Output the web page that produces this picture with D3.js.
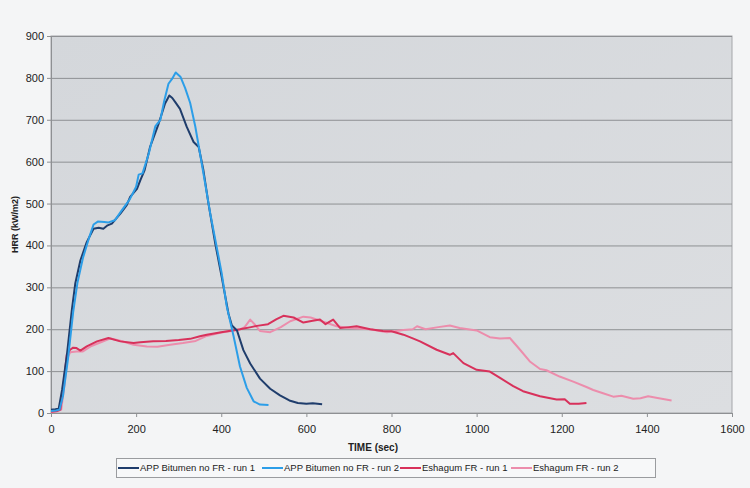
<!DOCTYPE html>
<html>
<head>
<meta charset="utf-8">
<script src="https://cdn.jsdelivr.net/npm/d3@7"></script>
<style>
  body { margin: 0; background: #f4f5f6; }
  svg { display: block; font-family: "Liberation Sans", Arial, sans-serif; }
</style>
</head>
<body>
<div id="chart"></div>
<script>
// [time (sec), HRR (kW/m2)]
var appRun1 = [
  [0,8],[10,9],[18,10],[26,55],[37,135],[49,246],[57,309],[69,364],[84,408],[100,440],
  [112,442],[123,440],[133,448],[143,452],[163,476],[178,496],[186,516],[202,535],[210,556],
  [220,580],[233,636],[253,691],[268,739],[278,758],[285,752],[292,742],[303,726],[319,683],
  [335,647],[347,635],[358,580],[370,500],[386,404],[401,325],[417,237],[425,209],[437,197],
  [452,150],[468,118],[491,82],[515,58],[538,42],[560,30],[580,24],[600,22],[615,23],[637,21]
];
var appRun2 = [
  [0,5],[12,6],[20,8],[28,40],[40,130],[52,240],[62,310],[75,370],[90,420],[100,450],
  [110,457],[125,456],[135,455],[150,460],[165,482],[185,510],[200,540],[206,569],[215,572],
  [230,620],[245,684],[257,700],[266,745],[276,786],[284,797],[293,813],[304,803],[315,776],
  [327,740],[339,684],[350,620],[362,549],[374,477],[386,414],[401,334],[413,254],[429,183],
  [444,111],[460,60],[476,28],[491,20],[511,19]
];
var eshagumRun1 = [
  [0,3],[15,5],[22,8],[30,72],[37,139],[45,151],[52,156],[60,155],[69,149],[84,159],
  [108,171],[135,179],[163,171],[194,167],[210,169],[240,171],[270,172],[300,174],[327,177],
  [350,183],[366,187],[400,193],[444,200],[470,205],[484,208],[510,212],[530,224],[546,232],
  [570,228],[593,216],[615,220],[632,223],[645,212],[663,223],[679,203],[700,205],[718,207],
  [750,200],[780,196],[800,195],[828,187],[850,178],[867,171],[906,151],[937,139],[945,143],
  [969,119],[992,107],[1000,103],[1031,99],[1055,84],[1086,64],[1109,52],[1149,40],[1188,32],
  [1207,33],[1219,22],[1240,22],[1258,24]
];
var eshagumRun2 = [
  [0,2],[15,4],[24,8],[32,70],[38,130],[45,145],[60,147],[75,147],[95,160],[120,170],
  [140,178],[165,172],[194,163],[225,159],[250,158],[280,163],[310,167],[340,172],[366,184],
  [400,192],[440,198],[455,205],[468,223],[480,210],[491,196],[515,193],[540,205],[562,219],
  [593,230],[610,228],[640,218],[671,207],[700,203],[750,200],[789,193],[828,198],[850,200],
  [860,207],[880,200],[910,205],[937,209],[960,203],[1000,197],[1031,181],[1055,178],
  [1078,179],[1102,151],[1125,123],[1149,105],[1164,102],[1195,87],[1227,75],[1258,62],
  [1274,55],[1297,47],[1321,39],[1340,41],[1368,34],[1385,35],[1403,40],[1425,36],[1458,30]
];

var seriesNames = ["APP Bitumen no FR - run 1", "APP Bitumen no FR - run 2",
                   "Eshagum FR - run 1", "Eshagum FR - run 2"];
var seriesColors = ["#1f3d6c", "#2c9ee8", "#d8315b", "#ec8dac"];
var xTicks = [0, 200, 400, 600, 800, 1000, 1200, 1400, 1600];
var yTicks = [0, 100, 200, 300, 400, 500, 600, 700, 800, 900];

var width = 750,
    height = 488,
    margin = { top: 36, right: 18, bottom: 75, left: 51 };
var plotW = width - margin.left - margin.right,
    plotH = height - margin.top - margin.bottom;

var svg = d3.select("#chart").append("svg")
  .attr("width", width)
  .attr("height", height);

var defs = svg.append("defs");
var grad = defs.append("linearGradient").attr("id", "plotbg")
  .attr("x1", "0").attr("y1", "0").attr("x2", "1").attr("y2", "1");
grad.append("stop").attr("offset", "0%").attr("stop-color", "#d4d7db");
grad.append("stop").attr("offset", "100%").attr("stop-color", "#dcdee1");

var x = d3.scaleLinear().domain([0, 1600]).range([0, plotW]);
var y = d3.scaleLinear().domain([0, 900]).range([plotH, 0]);

var g = svg.append("g").attr("transform", "translate(" + margin.left + "," + margin.top + ")");

g.append("rect")
  .attr("width", plotW)
  .attr("height", plotH)
  .attr("fill", "url(#plotbg)")
  .attr("stroke", "#a4a6a9");

// horizontal gridlines
g.append("g")
  .selectAll("line")
  .data(yTicks)
  .enter().append("line")
    .attr("x1", 0)
    .attr("x2", plotW)
    .attr("y1", function(d) { return y(d) + 0.5; })
    .attr("y2", function(d) { return y(d) + 0.5; })
    .attr("stroke", "#8e9093")
    .attr("stroke-width", 1);

var yAxis = d3.axisLeft(y).tickValues(yTicks).tickSize(4).tickPadding(3);
var xAxis = d3.axisBottom(x).tickValues(xTicks).tickFormat(d3.format("d"))
  .tickSize(4).tickPadding(8);

g.append("g").call(yAxis).call(styleAxis);
g.append("g").attr("transform", "translate(0," + plotH + ")").call(xAxis).call(styleAxis);

function styleAxis(sel) {
  sel.select(".domain").attr("stroke", "#8e9093");
  sel.selectAll(".tick line").attr("stroke", "#8e9093");
  sel.selectAll(".tick text")
    .attr("fill", "#222")
    .attr("font-size", "11px")
    .attr("font-family", "\"Liberation Sans\", Arial, sans-serif");
}

var line = d3.line()
  .x(function(d) { return x(d[0]); })
  .y(function(d) { return y(d[1]); });

var allSeries = [appRun1, appRun2, eshagumRun1, eshagumRun2];
// draw the Eshagum runs first so the bitumen curves sit on top
[3, 2, 0, 1].forEach(function(i) {
  g.append("path")
    .datum(allSeries[i])
    .attr("fill", "none")
    .attr("stroke", seriesColors[i])
    .attr("stroke-width", 2)
    .attr("stroke-linejoin", "round")
    .attr("d", line);
});

// axis titles
svg.append("text")
  .attr("transform", "translate(18," + (margin.top + plotH / 2) + ") rotate(-90)")
  .attr("text-anchor", "middle")
  .attr("font-size", "9px")
  .attr("font-weight", "bold")
  .attr("fill", "#222")
  .text("HRR (kW/m2)");

svg.append("text")
  .attr("x", 373)
  .attr("y", 451)
  .attr("text-anchor", "middle")
  .attr("font-size", "10px")
  .attr("font-weight", "bold")
  .attr("fill", "#222")
  .text("TIME (sec)");

// legend
var legendX = [118, 262, 400, 511];
var legend = svg.append("g");
legend.append("rect")
  .attr("x", 116.5).attr("y", 458.5)
  .attr("width", 539).attr("height", 19)
  .attr("fill", "#f7f8f9")
  .attr("stroke", "#9a9c9f");

var items = legend.selectAll("g.item")
  .data(seriesNames)
  .enter().append("g")
    .attr("class", "item")
    .attr("transform", function(d, i) { return "translate(" + legendX[i] + ",468)"; });
items.append("line")
  .attr("x1", 0).attr("x2", 21)
  .attr("stroke", function(d, i) { return seriesColors[i]; })
  .attr("stroke-width", 2);
items.append("text")
  .attr("x", 22)
  .attr("dy", "0.35em")
  .attr("font-size", "9.5px")
  .attr("fill", "#222")
  .text(function(d) { return d; });
</script>
</body>
</html>
